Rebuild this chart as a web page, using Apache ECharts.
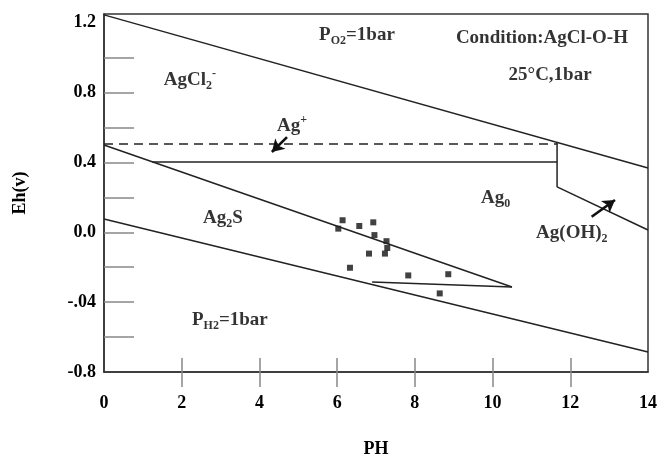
<!DOCTYPE html>
<html><head><meta charset="utf-8">
<script src="https://cdn.jsdelivr.net/npm/echarts@6/dist/echarts.min.js"></script>
<style>html,body{margin:0;padding:0;background:#fff}#c{width:660px;height:454px}</style>
</head><body><div id="c"></div>
<script>
// ---- axis ticks / labels ----
const xTickValues = [2, 4, 6, 8, 10, 12];
const xLabelValues = [0, 2, 4, 6, 8, 10, 12, 14];
const yTickValues = [-0.6, -0.4, -0.2, 0, 0.2, 0.4, 0.6, 0.8, 1.0];
const yLabelValues = [-0.8, -0.4, 0, 0.4, 0.8, 1.2];
const yLabelTexts = ['-0.8', '-.04', '0.0', '0.4', '0.8', '1.2'];

// ---- stability field boundaries [pH, Eh] ----
const o2Line = [[0, 1.245], [14, 0.368]];
const agPlusDashed = [[0, 0.505], [11.66, 0.505]];
const agPlusSolid = [[1.24, 0.403], [11.66, 0.403]];
const agOHVertical = [[11.66, 0.512], [11.66, 0.26]];
const agOHLine = [[11.66, 0.26], [14, 0.013]];
const ag2sUpper = [[0, 0.5], [10.5, -0.313]];
const wedgeLower = [[10.5, -0.313], [6.9, -0.285]];
const h2Line = [[0, 0.076], [14, -0.685]];

// ---- samples [pH, Eh] ----
const samplePoints = [[6.14, 0.069], [6.03, 0.021], [6.57, 0.036], [6.93, 0.057], [6.96, -0.016],
  [7.27, -0.051], [7.29, -0.090], [7.23, -0.122], [6.82, -0.122], [6.33, -0.203],
  [7.83, -0.247], [8.86, -0.240], [8.64, -0.350]];

// ---- arrows ----
const agPlusArrow = [[4.71, 0.545], [4.32, 0.46]];
const agOHArrow = [[12.55, 0.089], [13.15, 0.185]];

// ---- annotations ----
const annotationTexts = ['{m|AgCl}{sub|2}{sup|-}', '{m|P}{sub|O2}{m|=1bar}', '{m|Condition:AgCl-O-H}',
  '{m|25°C,1bar}', '{m|Ag}{sup|+}', '{m|Ag}{sub|0}', '{m|Ag(OH)}{sub|2}', '{m|Ag}{sub|2}{m|S}', '{m|P}{sub|H2}{m|=1bar}'];
const annotationCoords = [[2.21, 0.872], [6.51, 1.13], [11.27, 1.113], [11.48, 0.90], [4.84, 0.609],
  [10.08, 0.197], [12.04, -0.004], [3.06, 0.082], [3.24, -0.502]];

const FONT = 'Liberation Serif';
const TXT = '#000';
const lineStyle = {color: '#222', width: 1.5};
function seg(data, dashed) {
  return {type: 'line', data: data, symbol: 'none', silent: true, clip: false,
    lineStyle: Object.assign({}, lineStyle, dashed ? {type: [9, 6]} : {})};
}
function arrow(a) {
  return {type: 'line', data: [], silent: true,
    markLine: {silent: true, symbol: ['none', 'arrow'], symbolSize: [11, 12], label: {show: false},
      lineStyle: {color: '#111', width: 2.6, type: 'solid'},
      data: [[{coord: a[0]}, {coord: a[1]}]]}};
}
const rich = {
  m: {fontFamily: FONT, fontWeight: 'bold', fontSize: 19, color: TXT, lineHeight: 24},
  sub: {fontFamily: FONT, fontWeight: 'bold', fontSize: 12, color: TXT, lineHeight: 12, verticalAlign: 'bottom'},
  sup: {fontFamily: FONT, fontWeight: 'bold', fontSize: 12, color: TXT, lineHeight: 12, verticalAlign: 'top'}
};

const chart = echarts.init(document.getElementById('c'), null, {renderer: 'canvas'});
chart.setOption({
  backgroundColor: '#fff',
  animation: false,
  grid: {left: 104, right: 12, top: 14, bottom: 82, show: true, borderColor: '#333', borderWidth: 1.5,
    containLabel: false, outerBoundsMode: 'none'},
  xAxis: [{
    type: 'value', min: 0, max: 14, interval: 2,
    name: 'PH', nameLocation: 'middle', nameGap: 68,
    nameTextStyle: {fontFamily: FONT, fontWeight: 'bold', fontSize: 18, color: TXT},
    axisLine: {show: true, onZero: false, lineStyle: {color: '#333', width: 1.5}},
    axisTick: {show: true, inside: false, length: 15, customValues: xTickValues, lineStyle: {color: '#888', width: 1.5}},
    axisLabel: {customValues: xLabelValues, margin: 22, fontFamily: FONT, fontWeight: 'bold', fontSize: 18, color: TXT},
    splitLine: {show: false}
  }, {
    type: 'value', min: 0, max: 14, interval: 2, position: 'bottom',
    axisLine: {show: false, onZero: false},
    axisTick: {show: true, inside: true, length: 14, customValues: xTickValues, lineStyle: {color: '#888', width: 1.5}},
    axisLabel: {show: false}, splitLine: {show: false}
  }],
  yAxis: {
    type: 'value', min: -0.8, max: 1.25, interval: 0.2,
    name: 'Eh(v)', nameLocation: 'middle', nameGap: 75,
    nameTextStyle: {fontFamily: FONT, fontWeight: 'bold', fontSize: 18, color: TXT},
    axisLine: {show: true, onZero: false, lineStyle: {color: '#333', width: 1.5}},
    axisTick: {show: true, inside: true, length: 30, customValues: yTickValues, lineStyle: {color: '#888', width: 1.5}},
    axisLabel: {customValues: yLabelValues, margin: 8, fontFamily: FONT, fontWeight: 'bold', fontSize: 18, color: TXT,
      formatter: function (v) {
        for (let i = 0; i < yLabelValues.length; i++) if (Math.abs(yLabelValues[i] - v) < 1e-6) return yLabelTexts[i];
        return '';
      }},
    splitLine: {show: false}
  },
  series: [
    seg(o2Line), seg(agPlusDashed, true), seg(agPlusSolid), seg(agOHVertical), seg(agOHLine),
    seg(ag2sUpper), seg(wedgeLower), seg(h2Line),
    {type: 'scatter', data: samplePoints, symbol: 'rect', symbolSize: 6, itemStyle: {color: '#111'}, silent: true},
    arrow(agPlusArrow), arrow(agOHArrow),
    {type: 'scatter', symbolSize: 0, silent: true,
      data: annotationCoords.map(function (c, i) {
        return {value: c, label: {show: true, position: 'inside', formatter: annotationTexts[i], rich: rich}};
      })}
  ]
});
</script></body></html>
